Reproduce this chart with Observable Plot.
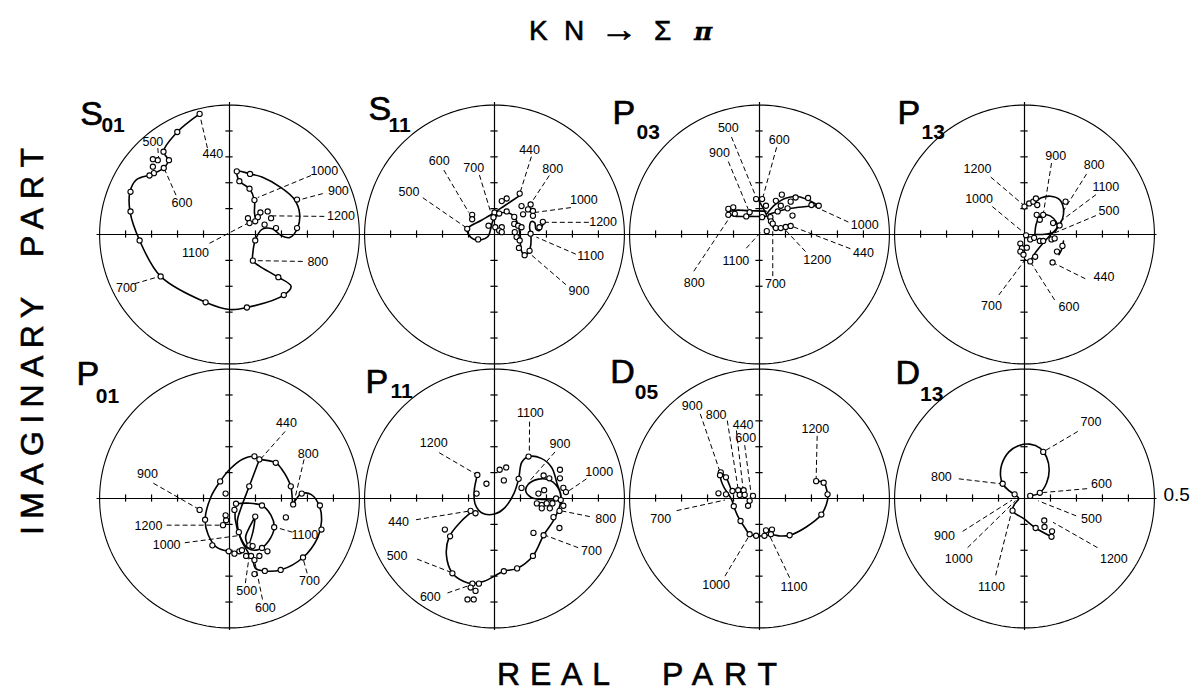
<!DOCTYPE html>
<html><head><meta charset="utf-8">
<script src="https://cdn.jsdelivr.net/npm/d3@7"></script>
<script src="https://cdn.jsdelivr.net/npm/@observablehq/plot@0.6"></script>
<style>
body{margin:0;background:#fff;}
#wrap{position:relative;width:1202px;height:694px;overflow:hidden;}
#chart{position:absolute;left:0;top:0;}
#overlay{position:absolute;left:0;top:0;pointer-events:none;}
</style></head><body>
<div id="wrap">
<div id="chart"></div>
<svg id="overlay" width="1202" height="694" font-family="Liberation Sans, Arial, sans-serif" fill="black" stroke="black" stroke-width="0.6">
  <text x="529" y="40" font-size="28">K</text>
  <text x="564" y="40" font-size="28">N</text>
  <text x="600" y="41" font-size="34" font-weight="bold" textLength="38" lengthAdjust="spacingAndGlyphs">→</text>
  <text x="654" y="40" font-size="28">Σ</text>
  <text x="694" y="40" font-size="25" font-style="italic" font-weight="bold" font-family="DejaVu Serif, serif" stroke-width="0.3">π</text>
  <text x="497" y="685" font-size="32" textLength="113" lengthAdjust="spacing">REAL</text>
  <text x="662" y="685" font-size="32" textLength="115" lengthAdjust="spacing">PART</text>
  <g transform="translate(43,535) rotate(-90)">
    <text x="0" y="0" font-size="32" textLength="238" lengthAdjust="spacing">IMAGINARY</text>
    <text x="278" y="0" font-size="32" textLength="109" lengthAdjust="spacing">PART</text>
  </g>
</svg>
</div>
<script>
// ---- panels (4 columns x 2 rows) ----
const panelLetters = ["S","S","P","P","P","P","D","D"];
const panelSubs    = ["01","11","03","13","01","11","05","13"];
// main-letter anchor (left, baseline) and subscript anchor, in amplitude units of each panel
const letterAnchor = [[-0.574,0.423],[-0.485,0.443],[-0.566,0.427],[-0.489,0.427],[-0.589,0.439],[-0.497,0.408],[-0.574,0.446],[-0.497,0.443]];
const subAnchor    = [[-0.493,0.396],[-0.408,0.396],[-0.473,0.370],[-0.396,0.370],[-0.515,0.370],[-0.400,0.390],[-0.480,0.385],[-0.402,0.377]];
const axisTicks = [-0.4,-0.3,-0.2,-0.1,0.1,0.2,0.3,0.4];
const boundRadius = 0.5;

// ---- S01 ----
const S01_curve = [[[-0.115,0.466],[-0.201,0.396],[-0.254,0.320],[-0.235,0.287],[-0.254,0.257],[-0.300,0.232],[-0.359,0.211],[-0.383,0.165],[-0.383,0.089],[-0.346,-0.023],[-0.265,-0.162],[-0.092,-0.262],[0.000,-0.290],[0.067,-0.282],[0.209,-0.234],[0.237,-0.200],[0.188,-0.165],[0.115,-0.122],[0.090,-0.101],[0.090,-0.070],[0.099,-0.023],[0.125,0.020],[0.165,0.022],[0.200,-0.005],[0.232,-0.012],[0.262,0.025],[0.270,0.080],[0.250,0.135],[0.200,0.180],[0.125,0.222],[0.079,0.234],[0.030,0.244],[0.038,0.206],[0.077,0.177],[0.096,0.133],[0.096,0.085],[0.100,0.060]]];
const S01_points = [[-0.115,0.466],[-0.201,0.396],[-0.254,0.320],[-0.233,0.287],[-0.276,0.287],[-0.295,0.291],[-0.295,0.262],[-0.253,0.257],[-0.291,0.237],[-0.308,0.228],[-0.381,0.165],[-0.381,0.089],[-0.346,-0.023],[-0.265,-0.162],[-0.092,-0.262],[0.067,-0.282],[0.209,-0.234],[0.188,-0.165],[0.090,-0.101],[0.099,-0.023],[0.028,0.244],[0.079,0.234],[0.038,0.206],[0.077,0.177],[0.096,0.133],[0.260,0.135],[0.260,0.025],[0.179,0.025],[0.147,0.089],[0.119,0.085],[0.160,0.063],[0.135,0.038],[0.109,0.067],[0.099,0.051],[0.071,0.063],[0.077,0.044]];
const S01_labels = [["440",-0.064,0.311,-0.085,0.334,-0.113,0.456],["500",-0.295,0.358,-0.276,0.334,-0.273,0.298],["600",-0.183,0.120,-0.206,0.152,-0.250,0.252],["1000",0.365,0.244,0.314,0.228,0.109,0.143],["900",0.419,0.168,0.359,0.158,0.273,0.135],["1200",0.429,0.070,0.365,0.070,0.167,0.072],["1100",-0.131,-0.070,-0.077,-0.034,0.071,0.044],["800",0.340,-0.105,0.282,-0.104,0.100,-0.101],["700",-0.397,-0.206,-0.365,-0.190,-0.269,-0.162]];

// ---- S11 ----
const S11_curve = [[[0.097,0.150],[0.040,0.112],[0.000,0.085],[-0.050,0.055],[-0.105,0.022],[-0.100,0.000],[-0.080,-0.018],[-0.050,-0.020],[-0.025,-0.008],[-0.015,0.020],[-0.005,0.055],[0.020,0.080],[0.050,0.085],[0.075,0.070],[0.090,0.040],[0.098,0.000],[0.100,-0.040],[0.108,-0.072],[0.125,-0.075],[0.138,-0.050],[0.140,0.000],[0.135,0.030],[0.142,0.050],[0.155,0.045],[0.160,0.020],[0.172,0.015],[0.185,0.035],[0.190,0.055]]];
const S11_points = [[0.097,0.158],[0.047,0.139],[0.028,0.129],[-0.086,0.076],[-0.086,0.059],[-0.105,0.022],[-0.063,-0.019],[0.000,0.085],[0.018,0.081],[0.047,0.089],[-0.004,0.066],[-0.023,0.034],[0.003,0.028],[0.028,0.028],[0.018,0.015],[0.028,0.009],[0.076,0.068],[0.104,0.110],[0.139,0.116],[0.129,0.097],[0.148,0.091],[0.148,0.072],[0.076,0.041],[0.091,0.034],[0.104,0.028],[0.078,0.009],[0.085,-0.010],[0.097,-0.023],[0.094,-0.052],[0.116,-0.080],[0.135,-0.063],[0.139,0.003],[0.186,0.049],[0.173,0.028],[0.110,0.078]];
const S11_labels = [["440",0.135,0.327,0.142,0.301,0.100,0.167],["800",0.224,0.253,0.211,0.228,0.142,0.123],["700",-0.080,0.256,-0.058,0.230,-0.016,0.091],["600",-0.213,0.285,-0.195,0.249,-0.099,0.085],["500",-0.329,0.165,-0.276,0.142,-0.111,0.028],["1000",0.344,0.135,0.294,0.104,0.154,0.085],["1200",0.418,0.047,0.363,0.047,0.192,0.047],["1100",0.370,-0.084,0.313,-0.076,0.161,-0.010],["900",0.325,-0.219,0.275,-0.194,0.135,-0.073]];

// ---- P03 ----
const P03_curve = [[[0.025,0.090],[-0.040,0.092],[-0.100,0.093],[-0.118,0.084],[-0.100,0.072],[-0.040,0.070],[0.025,0.070]],[[-0.005,0.135],[0.015,0.100],[0.032,0.065],[0.045,0.040],[0.063,0.025],[0.100,0.029],[0.124,0.033]],[[0.028,0.080],[0.060,0.115],[0.100,0.140],[0.150,0.146],[0.190,0.132],[0.225,0.112]],[[0.035,0.078],[0.090,0.095],[0.150,0.105],[0.225,0.112]]];
const P03_points = [[-0.013,0.137],[0.010,0.137],[0.025,0.111],[-0.120,0.099],[-0.101,0.105],[-0.120,0.076],[-0.095,0.080],[-0.051,0.070],[-0.038,0.086],[0.010,0.067],[0.042,0.067],[0.044,0.051],[0.051,0.042],[0.028,0.013],[0.063,0.025],[0.082,0.025],[0.101,0.029],[0.120,0.033],[0.127,0.073],[0.070,0.089],[0.082,0.111],[0.108,0.101],[0.120,0.127],[0.139,0.143],[0.187,0.141],[0.086,0.154],[0.063,0.130],[0.200,0.114],[0.228,0.111]];
const P03_labels = [["500",-0.120,0.412,-0.108,0.377,-0.013,0.144],["600",0.076,0.367,0.066,0.337,0.013,0.144],["900",-0.154,0.314,-0.120,0.282,-0.044,0.099],["1000",0.405,0.038,0.342,0.048,0.206,0.111],["440",0.400,-0.070,0.350,-0.055,0.124,0.032],["1200",0.222,-0.100,0.177,-0.066,0.101,0.016],["700",0.061,-0.190,0.051,-0.161,0.051,0.035],["1100",-0.091,-0.101,-0.051,-0.053,0.006,0.010],["800",-0.251,-0.186,-0.253,-0.142,-0.114,0.067]];

// ---- P13 ----
const P13_curve = [[[0.035,0.120],[0.065,0.142],[0.100,0.148],[0.135,0.135],[0.150,0.100],[0.146,0.060],[0.128,0.028],[0.100,-0.002],[0.070,-0.035],[0.042,-0.070],[0.022,-0.104]],[[0.040,0.000],[0.045,0.040],[0.060,0.070],[0.085,0.076],[0.112,0.062],[0.126,0.036],[0.118,0.012],[0.085,0.002],[0.040,0.000]],[[0.150,-0.025],[0.146,-0.050],[0.133,-0.078]]];
const P13_points = [[0.000,0.108],[0.018,0.120],[0.034,0.127],[0.044,0.139],[0.049,0.114],[0.047,0.076],[0.072,0.076],[0.059,0.057],[0.158,0.127],[0.110,0.044],[0.135,0.035],[0.006,-0.003],[0.022,-0.019],[0.037,-0.013],[0.059,-0.025],[0.072,-0.025],[0.104,-0.019],[0.116,-0.015],[-0.016,-0.035],[-0.010,-0.053],[0.009,-0.051],[-0.016,-0.066],[-0.004,-0.078],[0.022,-0.104],[0.041,-0.086],[0.146,-0.044],[0.125,-0.066],[0.108,-0.108]];
const P13_labels = [["900",0.120,0.304,0.104,0.276,0.072,0.078],["800",0.268,0.268,0.239,0.234,0.148,0.089],["1100",0.313,0.184,0.275,0.154,0.129,0.044],["500",0.325,0.091,0.275,0.073,0.116,0.006],["440",0.306,-0.165,0.234,-0.171,0.108,-0.108],["600",0.171,-0.281,0.116,-0.253,0.028,-0.114],["700",-0.127,-0.278,-0.099,-0.234,0.009,-0.089],["1000",-0.175,0.139,-0.124,0.108,-0.006,0.010],["1200",-0.181,0.253,-0.130,0.222,-0.004,0.114]];

// ---- P01 ----
const P01_curve = [[[0.115,0.151],[0.096,0.163],[0.050,0.152],[0.000,0.112],[-0.036,0.066],[-0.072,0.005],[-0.094,-0.082],[-0.082,-0.140],[-0.050,-0.188],[-0.003,-0.204],[0.040,-0.205]],[[0.115,0.151],[0.076,0.047],[0.045,-0.035],[0.030,-0.090],[0.045,-0.160],[0.070,-0.205],[0.090,-0.240],[0.100,-0.270],[0.136,-0.280],[0.197,-0.276],[0.283,-0.228],[0.340,-0.150],[0.354,-0.090],[0.348,-0.035],[0.315,0.015],[0.278,0.019],[0.255,-0.005],[0.245,-0.023],[0.240,0.020],[0.236,0.047],[0.200,0.115],[0.178,0.138],[0.115,0.151]],[[0.025,-0.020],[0.070,-0.018],[0.125,-0.027],[0.160,-0.065],[0.172,-0.111],[0.150,-0.165],[0.110,-0.198],[0.070,-0.192],[0.042,-0.150],[0.022,-0.080],[0.025,-0.020]],[[0.099,-0.070],[0.080,-0.105],[0.062,-0.150],[0.072,-0.178],[0.090,-0.130],[0.099,-0.070]]];
const P01_points = [[0.096,0.163],[0.115,0.151],[0.178,0.138],[0.236,0.047],[0.278,0.019],[0.245,-0.023],[0.348,-0.027],[0.354,-0.120],[0.283,-0.228],[0.197,-0.276],[0.136,-0.280],[0.096,-0.292],[-0.036,0.066],[-0.015,0.019],[0.025,-0.020],[0.125,-0.027],[0.099,-0.070],[0.217,-0.073],[0.172,-0.111],[0.076,0.047],[-0.115,-0.044],[-0.094,-0.082],[-0.066,-0.181],[-0.025,-0.103],[-0.013,-0.084],[-0.015,-0.065],[0.036,-0.130],[0.019,-0.044],[0.038,-0.204],[0.019,-0.213],[-0.003,-0.204],[0.048,-0.200],[0.076,-0.181],[0.089,-0.184],[0.125,-0.191],[0.146,-0.204],[0.115,-0.222],[0.083,-0.222],[0.064,-0.222],[0.096,-0.238]];
const P01_labels = [["440",0.219,0.290,0.214,0.259,0.121,0.154],["800",0.303,0.173,0.287,0.151,0.248,-0.016],["900",-0.316,0.095,-0.293,0.059,-0.117,-0.042],["1200",-0.312,-0.105,-0.242,-0.103,-0.028,-0.103],["1000",-0.242,-0.178,-0.172,-0.171,0.038,-0.143],["1100",0.290,-0.141,0.242,-0.130,0.176,-0.111],["700",0.308,-0.320,0.299,-0.289,0.283,-0.232],["500",0.066,-0.358,0.061,-0.327,0.076,-0.222],["600",0.138,-0.422,0.127,-0.390,0.096,-0.238]];

// ---- P11 ----
const P11_curve = [[[-0.085,-0.050],[-0.130,-0.090],[-0.175,-0.150],[-0.185,-0.220],[-0.162,-0.289],[-0.120,-0.320],[-0.085,-0.329],[-0.040,-0.320],[0.036,-0.281],[0.087,-0.270],[0.148,-0.222],[0.189,-0.142],[0.230,-0.080],[0.255,-0.010],[0.250,0.030],[0.215,0.070],[0.170,0.075],[0.130,0.055],[0.120,0.030],[0.140,0.005],[0.200,-0.005],[0.255,0.000],[0.240,0.060],[0.220,0.120],[0.180,0.155],[0.131,0.162],[0.105,0.140],[0.093,0.076],[0.075,0.020],[0.040,-0.035],[0.000,-0.060],[-0.050,-0.055],[-0.075,-0.020],[-0.078,0.030],[-0.066,0.091]]];
const P11_points = [[0.131,0.162],[0.093,0.076],[0.104,0.041],[0.020,0.111],[0.045,0.120],[0.036,0.070],[-0.031,0.057],[-0.066,0.091],[-0.069,0.019],[-0.092,-0.048],[-0.073,-0.057],[-0.191,-0.120],[-0.171,-0.146],[-0.162,-0.289],[-0.085,-0.329],[-0.060,-0.329],[-0.092,-0.344],[-0.073,-0.357],[-0.104,-0.390],[-0.080,-0.390],[0.036,-0.281],[0.087,-0.270],[0.148,-0.222],[0.189,-0.142],[0.150,-0.133],[0.250,-0.114],[0.227,-0.072],[0.250,-0.048],[0.265,-0.028],[0.169,0.019],[0.191,0.032],[0.189,0.089],[0.211,0.078],[0.252,0.111],[0.252,0.078],[0.265,0.041],[0.275,0.025],[0.163,-0.019],[0.182,-0.025],[0.201,-0.019],[0.223,-0.019],[0.213,-0.038],[0.182,-0.038],[0.237,0.000],[0.255,-0.006]];
const P11_labels = [["1100",0.138,0.329,0.135,0.297,0.134,0.177],["900",0.252,0.209,0.233,0.180,0.131,0.063],["1000",0.403,0.101,0.354,0.076,0.271,0.019],["800",0.428,-0.080,0.367,-0.070,0.259,-0.048],["700",0.373,-0.203,0.322,-0.190,0.195,-0.142],["1200",-0.234,0.213,-0.213,0.177,-0.073,0.095],["440",-0.369,-0.089,-0.302,-0.082,-0.094,-0.048],["500",-0.375,-0.222,-0.298,-0.234,-0.168,-0.285],["600",-0.247,-0.380,-0.181,-0.365,-0.094,-0.335]];

// ---- D05 ----
const D05_curve = [[[-0.152,0.095],[-0.148,0.070],[-0.135,0.040],[-0.118,0.015],[-0.105,-0.010],[-0.099,-0.030],[-0.085,-0.065],[-0.073,-0.087],[-0.055,-0.115],[-0.038,-0.138],[-0.013,-0.144],[0.019,-0.144],[0.050,-0.140],[0.080,-0.145],[0.116,-0.142],[0.180,-0.110],[0.238,-0.062],[0.262,-0.005],[0.262,0.016],[0.247,0.061],[0.218,0.067]],[[-0.149,0.101],[-0.129,0.082],[-0.115,0.050],[-0.105,0.020]]];
const D05_points = [[-0.149,0.101],[-0.152,0.090],[-0.129,0.082],[-0.158,0.020],[-0.129,0.016],[-0.104,0.029],[-0.082,0.032],[-0.061,0.032],[-0.076,0.014],[-0.057,0.014],[-0.025,0.010],[-0.038,-0.009],[-0.044,-0.028],[-0.099,-0.030],[-0.073,-0.087],[-0.038,-0.138],[-0.013,-0.144],[0.019,-0.144],[0.025,-0.123],[0.048,-0.120],[0.044,-0.138],[0.116,-0.142],[0.238,-0.062],[0.262,0.016],[0.247,0.061],[0.218,0.067]];
const D05_labels = [["900",-0.259,0.356,-0.228,0.327,-0.152,0.103],["800",-0.167,0.323,-0.124,0.301,-0.082,0.035],["440",-0.063,0.285,-0.089,0.263,-0.063,0.035],["600",-0.053,0.232,-0.057,0.206,-0.032,0.016],["1200",0.215,0.270,0.222,0.242,0.218,0.077],["700",-0.380,-0.078,-0.319,-0.047,-0.133,-0.006],["1000",-0.167,-0.335,-0.133,-0.300,-0.044,-0.151],["1100",0.133,-0.341,0.116,-0.306,0.038,-0.142]];

// ---- D13 ----
const D13_curve = [[[0.022,0.010],[0.059,0.022],[0.085,0.060],[0.095,0.110],[0.085,0.160],[0.060,0.195],[0.020,0.210],[-0.020,0.205],[-0.060,0.180],[-0.088,0.130],[-0.092,0.085],[-0.084,0.057],[-0.060,0.030],[-0.038,0.016],[-0.022,0.000],[-0.030,-0.012],[-0.040,-0.025],[-0.046,-0.047],[0.000,-0.080],[0.043,-0.114],[0.104,-0.148]]];
const D13_points = [[0.072,0.180],[-0.084,0.057],[0.059,0.022],[0.022,0.010],[-0.038,0.016],[-0.046,-0.047],[0.043,-0.114],[0.076,-0.085],[0.077,-0.110],[0.106,-0.127],[0.104,-0.148]];
const D13_labels = [["700",0.256,0.295,0.205,0.259,0.080,0.185],["800",-0.320,0.082,-0.253,0.076,-0.092,0.057],["600",0.296,0.057,0.241,0.038,0.072,0.023],["500",0.258,-0.080,0.199,-0.067,0.053,-0.009],["1200",0.344,-0.234,0.281,-0.190,0.110,-0.092],["900",-0.308,-0.146,-0.238,-0.127,-0.048,-0.006],["1000",-0.253,-0.234,-0.219,-0.190,-0.035,-0.009],["1100",-0.127,-0.342,-0.111,-0.297,-0.048,-0.044]];

const scaleLabel = ["0.5", 0.535, 0.015]; // shown at the right of the last panel

// ---- build tables ----
const curves = [S01_curve,S11_curve,P03_curve,P13_curve,P01_curve,P11_curve,D05_curve,D13_curve];
const points = [S01_points,S11_points,P03_points,P13_points,P01_points,P11_points,D05_points,D13_points];
const labels = [S01_labels,S11_labels,P03_labels,P13_labels,P01_labels,P11_labels,D05_labels,D13_labels];
const col = i => i % 4, row = i => Math.floor(i / 4);

const curveData = curves.flatMap((paths, i) => paths.flatMap((p, j) => p.map(([re, im]) => ({re, im, seg: i * 10 + j, col: col(i), row: row(i)}))));
const pointData = points.flatMap((ps, i) => ps.map(([re, im]) => ({re, im, col: col(i), row: row(i)})));
const labelData = labels.flatMap((ls, i) => ls.map(([t, tx, ty, x1, y1, x2, y2]) => ({t, tx, ty, x1, y1, x2, y2, col: col(i), row: row(i)})));
const nameData = panelLetters.map((L, i) => ({L, s: panelSubs[i], lx: letterAnchor[i][0], ly: letterAnchor[i][1], sx: subAnchor[i][0], sy: subAnchor[i][1], col: col(i), row: row(i)}));
const circle = d3.range(0, 361, 2).map(a => ({re: boundRadius * Math.cos(a * Math.PI / 180), im: boundRadius * Math.sin(a * Math.PI / 180)}));

const font = "Liberation Sans, Arial, sans-serif";
const chart = Plot.plot({
  width: 1202, height: 694,
  marginLeft: 96.5, marginRight: 45.5, marginTop: 102, marginBottom: 64,
  x: {domain: [-0.51, 0.51], axis: null},
  y: {domain: [-0.51, 0.51], axis: null},
  fx: {domain: [0, 1, 2, 3], axis: null, padding: 0, round: false},
  fy: {domain: [0, 1], axis: null, padding: 0, round: false},
  style: {background: "white", color: "black", fontFamily: font},
  marks: [
    Plot.line(circle, {x: "re", y: "im", stroke: "black", strokeWidth: 1.1}),
    Plot.ruleY([0], {stroke: "black", strokeWidth: 1.2}),
    Plot.ruleX([0], {stroke: "black", strokeWidth: 1.2}),
    Plot.ruleX(axisTicks, {x: d => d, y1: -0.014, y2: 0.014, stroke: "black", strokeWidth: 1.2}),
    Plot.ruleY(axisTicks, {y: d => d, x1: -0.014, x2: 0.014, stroke: "black", strokeWidth: 1.2}),
    Plot.link(labelData, {x1: "x1", y1: "y1", x2: "x2", y2: "y2", fx: "col", fy: "row", stroke: "black", strokeWidth: 1, strokeDasharray: "5,3"}),
    Plot.line(curveData, {x: "re", y: "im", z: "seg", fx: "col", fy: "row", curve: "catmull-rom", stroke: "black", strokeWidth: 1.6}),
    Plot.dot(pointData, {x: "re", y: "im", fx: "col", fy: "row", r: 2.6, stroke: "black", fill: "white", strokeWidth: 1.1}),
    Plot.text(labelData, {x: "tx", y: "ty", text: "t", fx: "col", fy: "row", fontSize: 12.5, fill: "black", fontFamily: font}),
    Plot.text(nameData, {x: "lx", y: "ly", text: "L", fx: "col", fy: "row", fontSize: 34, textAnchor: "start", lineAnchor: "bottom", fill: "black", stroke: "black", strokeWidth: 0.7, fontFamily: font}),
    Plot.text(nameData, {x: "sx", y: "sy", text: "s", fx: "col", fy: "row", fontSize: 21, fontWeight: "bold", textAnchor: "start", lineAnchor: "bottom", fill: "black", fontFamily: font}),
    Plot.text([{t: scaleLabel[0], x: scaleLabel[1], y: scaleLabel[2], col: 3, row: 1}], {x: "x", y: "y", text: "t", fx: "col", fy: "row", fontSize: 19, textAnchor: "start", fill: "black", fontFamily: font})
  ]
});
document.getElementById("chart").appendChild(chart);
</script>
</body></html>
